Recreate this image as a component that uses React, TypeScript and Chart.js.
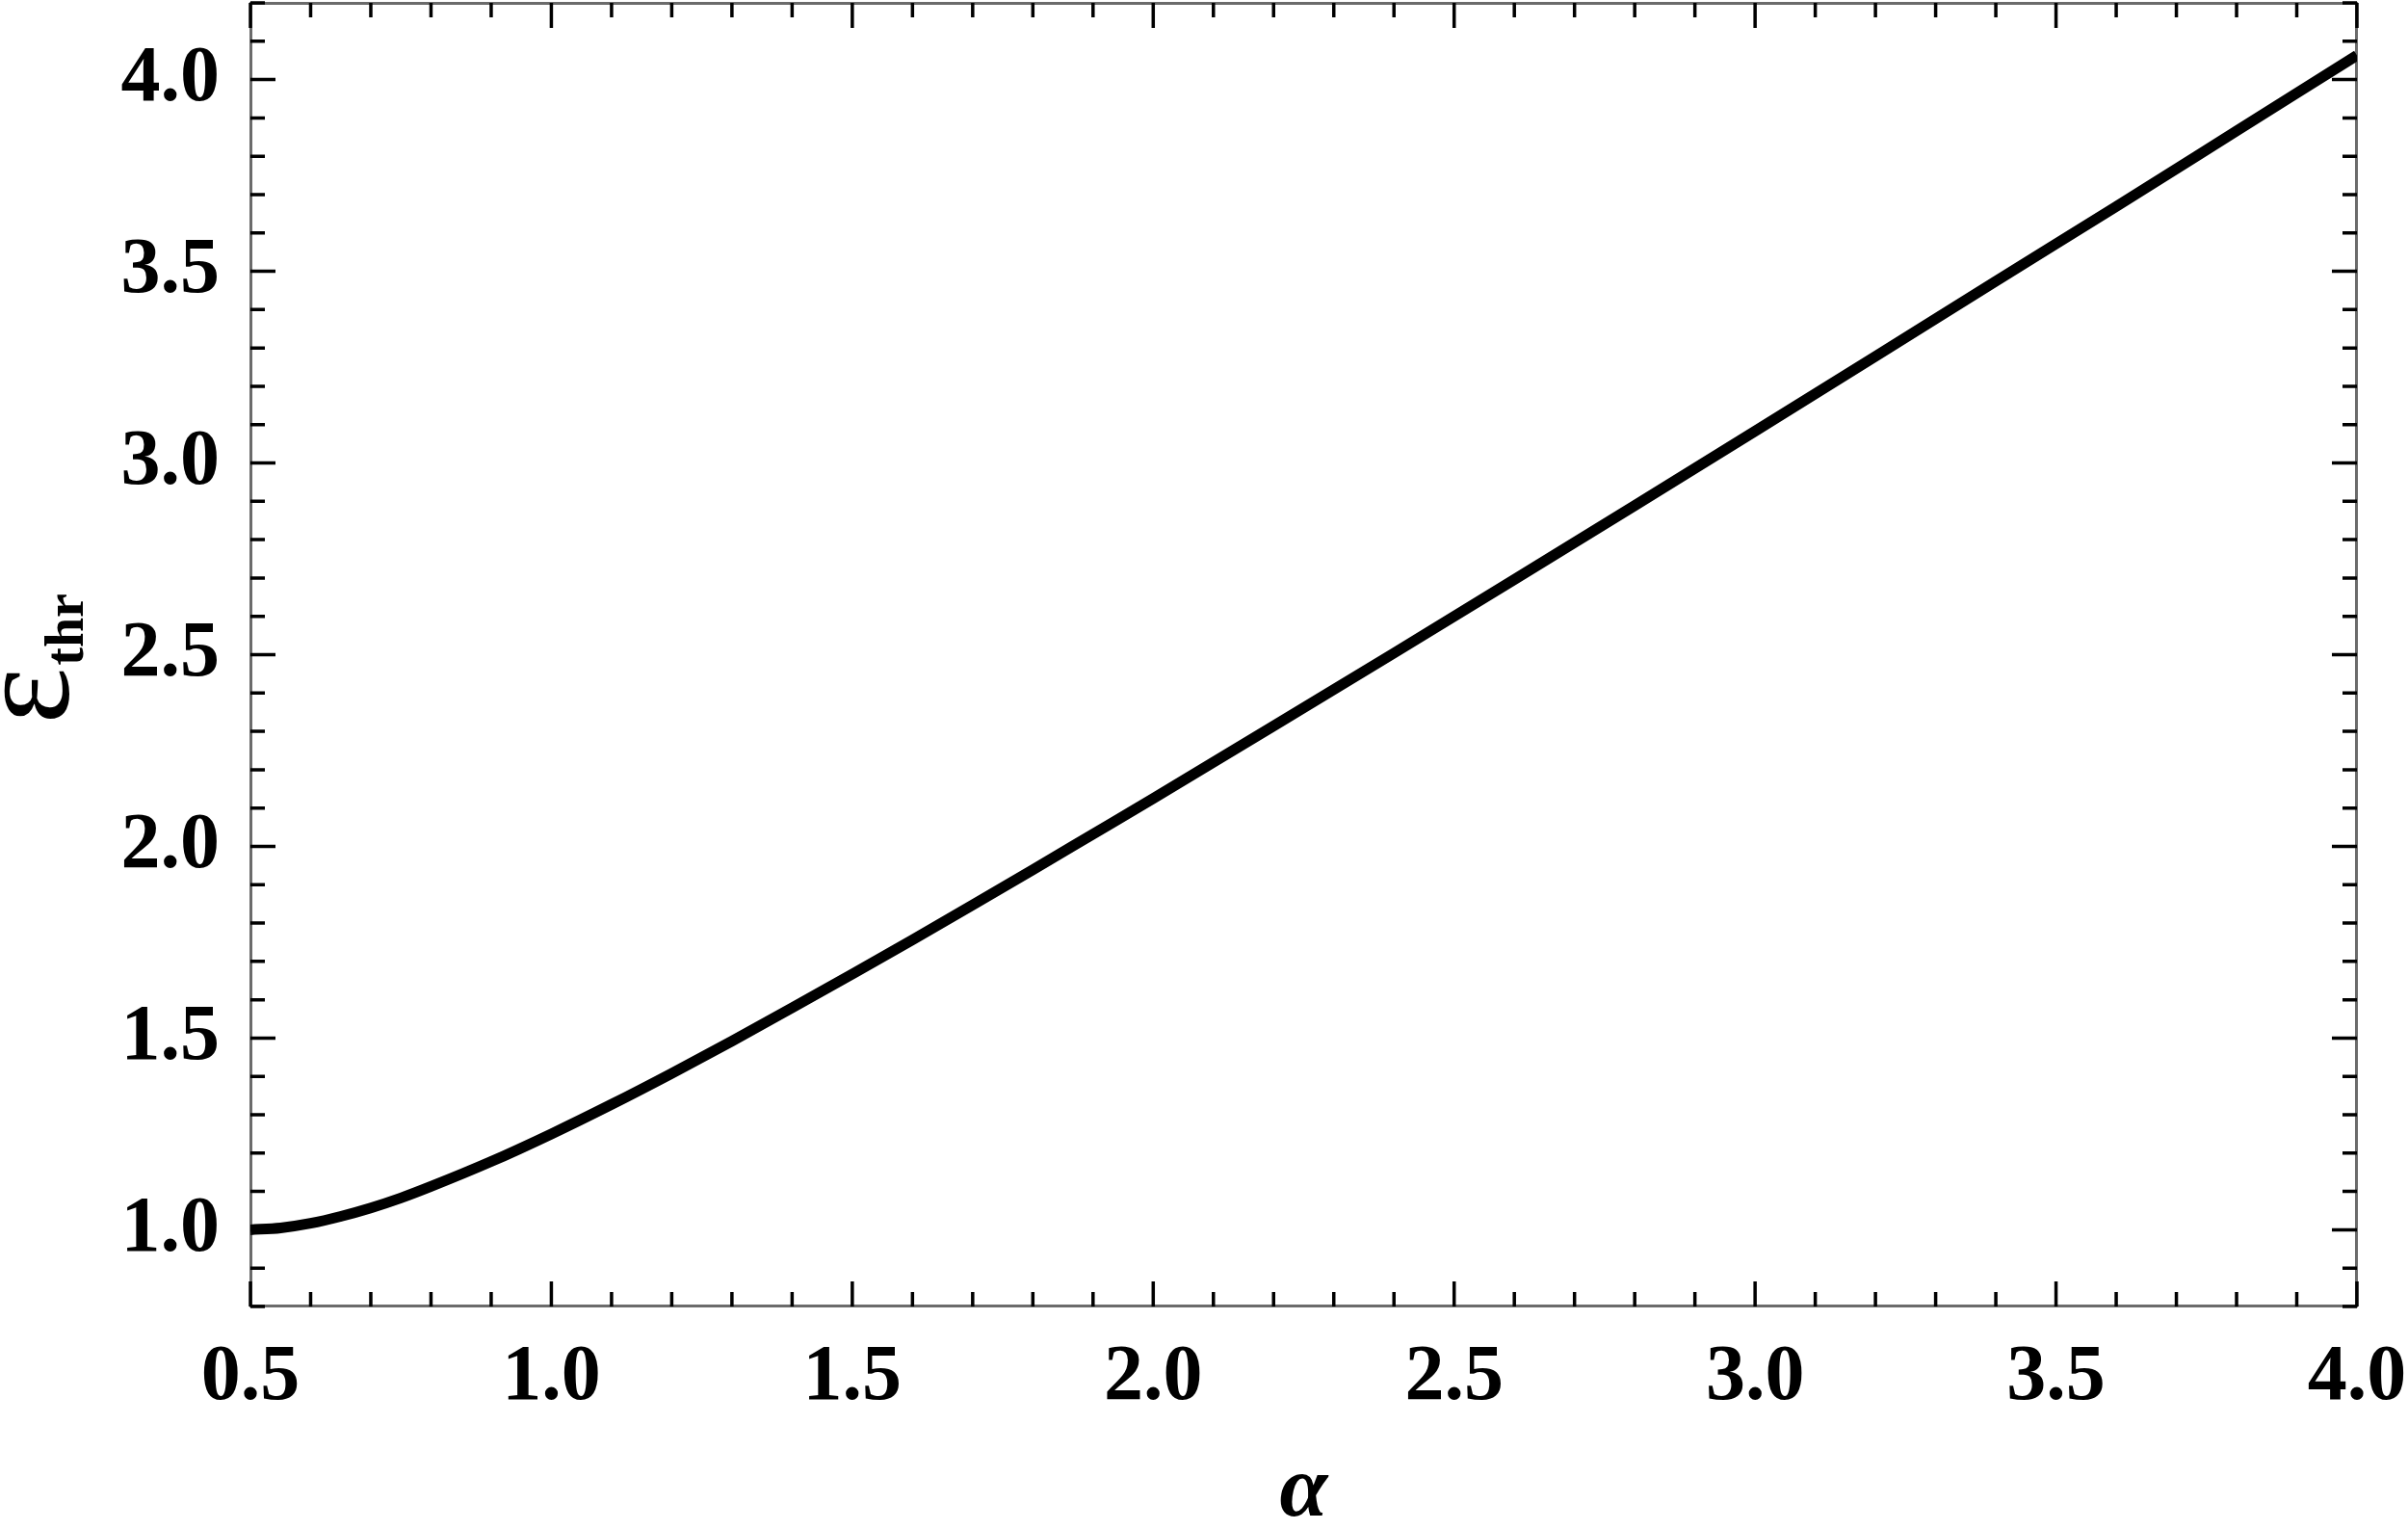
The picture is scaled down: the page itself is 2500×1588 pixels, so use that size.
import React, { useEffect, useRef } from "react";
import { Chart, registerables } from "chart.js";

Chart.register(...registerables);

// alpha values (x) and threshold epsilon (y)
const alphaValues = [0.5, 0.55, 0.6, 0.65, 0.7, 0.75, 0.8, 0.9, 1.0, 1.1, 1.2, 1.3, 1.4, 1.5, 1.6, 1.7, 1.8, 1.9, 2.0, 2.2, 2.4, 2.6, 2.8, 3.0, 3.2, 3.4, 3.6, 3.8, 4.0];
const epsilonValues = [1.0, 1.005, 1.017, 1.035, 1.057, 1.083, 1.113, 1.178, 1.25, 1.327, 1.408, 1.492, 1.579, 1.667, 1.756, 1.847, 1.939, 2.032, 2.125, 2.314, 2.504, 2.696, 2.889, 3.083, 3.278, 3.474, 3.669, 3.866, 4.063];

const xRange = [0.5, 4.0];
const yRange = [0.8, 4.2];
const majorStep = 0.5;
const minorStep = 0.1;

const xTitle = "α";
const yTitleMain = "ε";
const yTitleSub = "thr";

const FONT = '"Liberation Serif", "Times New Roman", serif';

const framePlugin = {
  id: "frameTicks",
  beforeDatasetsDraw(chart: any) {
    const { ctx, chartArea } = chart;
    const { left, right, top, bottom } = chartArea;
    const xs = chart.scales.x;
    const ys = chart.scales.y;
    ctx.save();
    ctx.strokeStyle = "#6b6b6b";
    ctx.lineWidth = 3;
    ctx.strokeRect(left + 0.5, top + 0.5, right - left - 1, bottom - top - 1);
    ctx.strokeStyle = "#000";
    ctx.lineWidth = 3.5;
    ctx.lineCap = "butt";
    const nx = Math.round((xRange[1] - xRange[0]) / minorStep);
    for (let i = 0; i <= nx; i++) {
      const v = xRange[0] + i * minorStep;
      const major = Math.abs(v / majorStep - Math.round(v / majorStep)) < 1e-6;
      const len = major ? 26 : 15;
      const px = xs.getPixelForValue(v);
      ctx.beginPath();
      ctx.moveTo(px, bottom);
      ctx.lineTo(px, bottom - len);
      ctx.moveTo(px, top);
      ctx.lineTo(px, top + len);
      ctx.stroke();
    }
    const ny = Math.round((yRange[1] - yRange[0]) / minorStep);
    for (let i = 0; i <= ny; i++) {
      const v = yRange[0] + i * minorStep;
      const major = Math.abs(v / majorStep - Math.round(v / majorStep)) < 1e-6;
      const len = major ? 26 : 15;
      const py = ys.getPixelForValue(v);
      ctx.beginPath();
      ctx.moveTo(left, py);
      ctx.lineTo(left + len, py);
      ctx.moveTo(right, py);
      ctx.lineTo(right - len, py);
      ctx.stroke();
    }
    ctx.restore();
  },
  afterDraw(chart: any) {
    const { ctx, chartArea } = chart;
    const { left, right, top, bottom } = chartArea;
    ctx.save();
    ctx.fillStyle = "#000";
    // x title
    ctx.font = `italic bold 90px ${FONT}`;
    ctx.textAlign = "center";
    ctx.textBaseline = "alphabetic";
    ctx.fillText(xTitle, (left + right) / 2, bottom + 217);
    // y title (rotated)
    const cy = (top + bottom) / 2;
    ctx.translate(71, cy + 72);
    ctx.rotate(-Math.PI / 2);
    ctx.textAlign = "left";
    ctx.font = `140px ${FONT}`;
    ctx.fillText(yTitleMain, 0, 0);
    const w = ctx.measureText(yTitleMain).width;
    ctx.font = `bold 56px ${FONT}`;
    ctx.fillText(yTitleSub, w + 2, 15);
    ctx.restore();
  },
};

export default function App() {
  const ref = useRef<HTMLCanvasElement | null>(null);
  useEffect(() => {
    if (!ref.current) return;
    const chart = new Chart(ref.current, {
      type: "line",
      data: {
        datasets: [
          {
            data: alphaValues.map((a, i) => ({ x: a, y: epsilonValues[i] })),
            borderColor: "#000",
            borderWidth: 11,
            pointRadius: 0,
            cubicInterpolationMode: "monotone",
            fill: false,
            borderCapStyle: "butt",
          },
        ],
      },
      options: {
        animation: false,
        responsive: false,
        devicePixelRatio: 1,
        layout: { padding: { top: 3, right: 53, left: 0, bottom: 0 } },
        plugins: { legend: { display: false }, tooltip: { enabled: false } },
        scales: {
          x: {
            type: "linear",
            min: xRange[0],
            max: xRange[1],
            grid: { display: false },
            border: { display: false },
            ticks: {
              stepSize: majorStep,
              includeBounds: false,
              autoSkip: false,
              maxRotation: 0,
              padding: 18,
              color: "#000",
              font: { family: FONT, size: 82, weight: "bold" },
              callback: (v: any) => Number(v).toFixed(1),
            },
            afterFit: (s: any) => {
              s.height = 232;
              s.paddingLeft = 0;
              s.paddingRight = 0;
            },
          },
          y: {
            type: "linear",
            min: yRange[0],
            max: yRange[1],
            grid: { display: false },
            border: { display: false },
            ticks: {
              stepSize: majorStep,
              includeBounds: false,
              autoSkip: false,
              padding: 24,
              color: "#000",
              font: { family: FONT, size: 82, weight: "bold" },
              callback: (v: any) => Number(v).toFixed(1),
            },
            afterFit: (s: any) => {
              s.width = 260;
              s.paddingTop = 0;
              s.paddingBottom = 0;
            },
          },
        },
      },
      plugins: [framePlugin],
    });
    return () => chart.destroy();
  }, []);
  return (
    <div style={{ position: "absolute", left: 0, top: 0, width: 2500, height: 1588, background: "#fff" }}>
      <canvas ref={ref} width={2500} height={1588} style={{ display: "block" }} />
    </div>
  );
}
